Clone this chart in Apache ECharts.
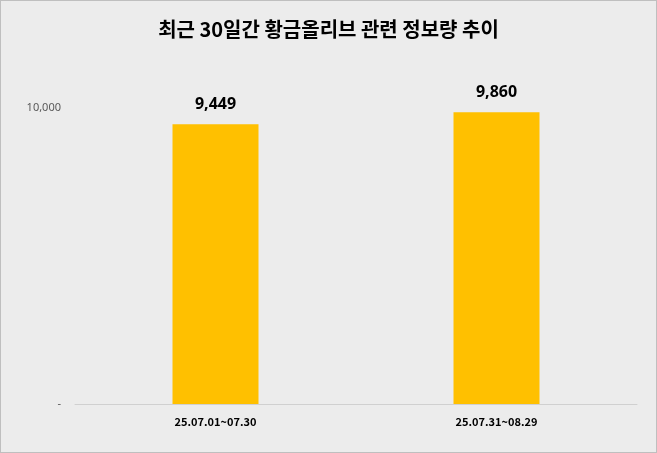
<!DOCTYPE html>
<html><head><meta charset="utf-8">
<script src="https://cdn.jsdelivr.net/npm/echarts@6/dist/echarts.min.js"></script>
<style>html,body{margin:0;padding:0;}#c{width:657px;height:453px;}</style>
</head><body><div id="c"></div>
<script>
const title = '최근 30일간 황금올리브 관련 정보량 추이';
const categories = ['25.07.01~07.30', '25.07.31~08.29'];
const values = [9449, 9860];
const yMax = 10000;
const chart = echarts.init(document.getElementById('c'));
chart.setOption({
  backgroundColor: '#ececec',
  title: {text: title, left: 'center', top: 14, textStyle: {fontFamily: 'Noto Sans CJK KR', fontSize: 20, fontWeight: 'bold', color: '#000'}},
  grid: {left: 75, right: 20, top: 108, bottom: 49},
  xAxis: {type: 'category', data: categories,
    axisLine: {lineStyle: {color: '#d0d0d0'}}, axisTick: {show: false},
    axisLabel: {fontFamily: 'Noto Sans CJK KR', fontWeight: 'bold', fontSize: 11, color: '#000', margin: 12}},
  yAxis: {type: 'value', min: 0, max: yMax, interval: 10000, splitLine: {show: false},
    axisLabel: {fontFamily: 'Noto Sans', fontSize: 11, color: '#595959', margin: 14,
      formatter: v => v === 0 ? '-' : v.toLocaleString('en-US')}},
  series: [{type: 'bar', data: values, barWidth: 86, itemStyle: {color: '#ffc000'},
    label: {show: true, position: 'top', distance: 12, fontFamily: 'Noto Sans', fontWeight: 'bold', fontSize: 16, color: '#000',
      formatter: p => p.value.toLocaleString('en-US')}}]
});
</script>
<div style="position:absolute;left:0;top:0;width:655px;height:451px;border:1px solid #bfbfbf;pointer-events:none"></div>
</body></html>
